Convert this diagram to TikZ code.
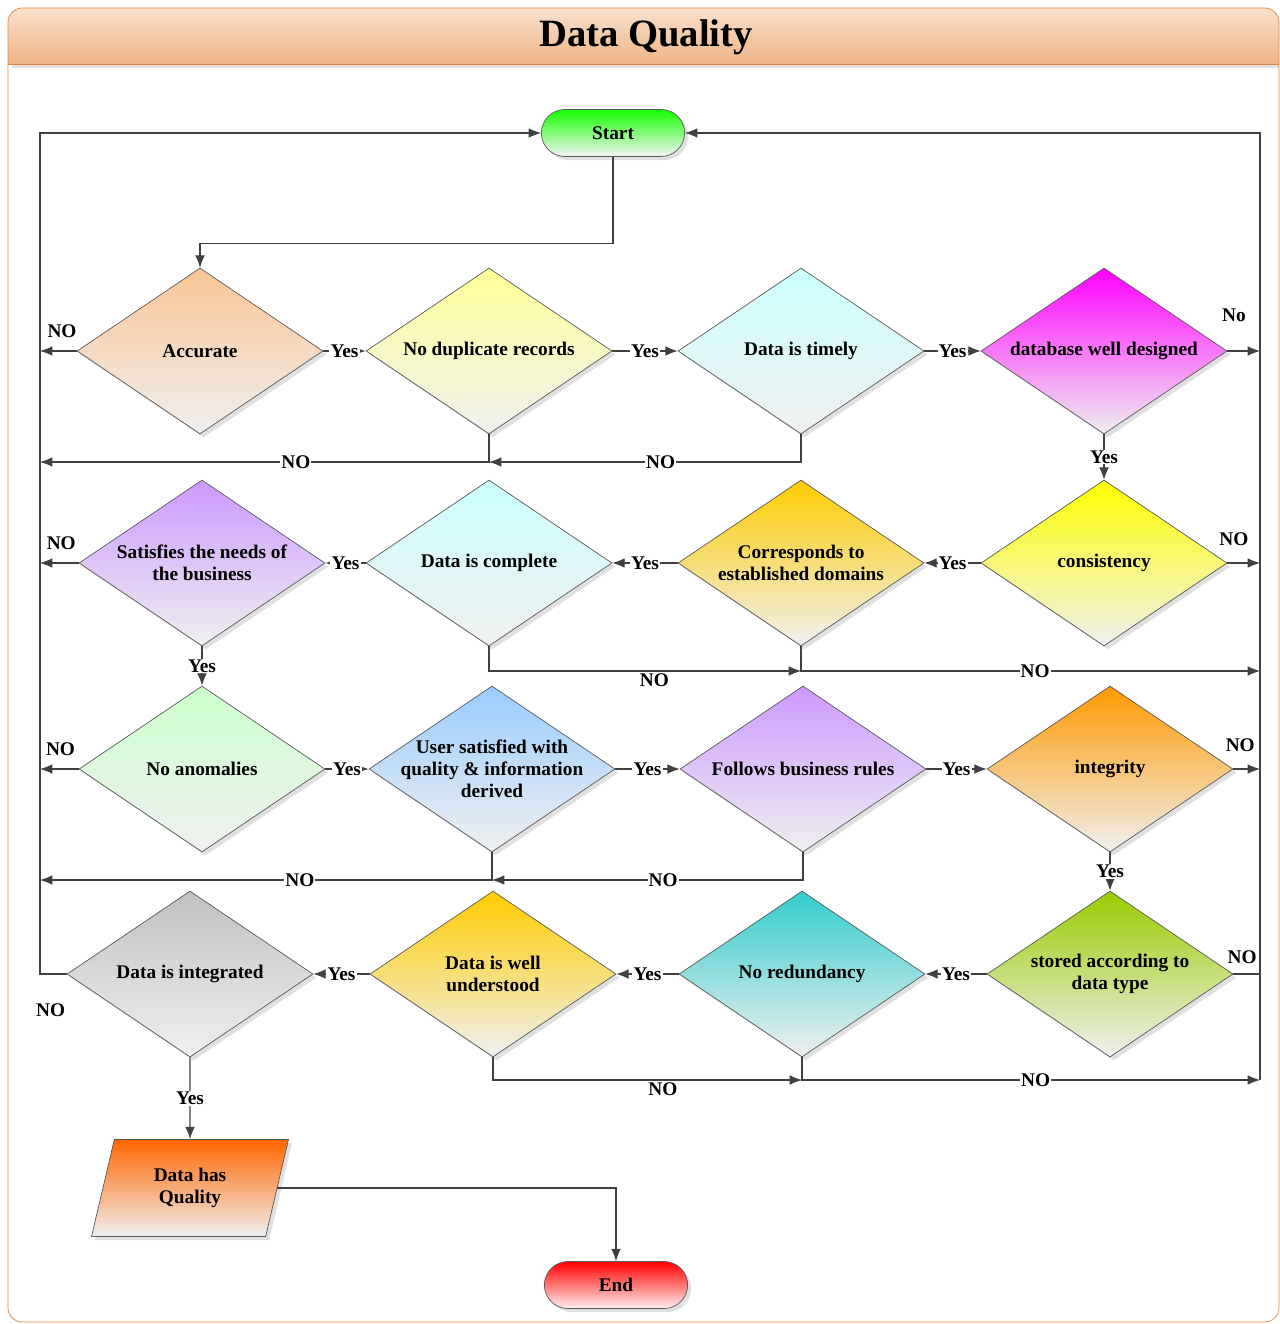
\documentclass[tikz,border=0pt]{standalone}
\usepackage{fontspec}
\setmainfont{Liberation Serif}
\usetikzlibrary{shapes.geometric,shapes.misc,shadows,arrows.meta}

\definecolor{hdtop}{HTML}{F9E1CE}
\definecolor{hdbot}{HTML}{EDB484}
\definecolor{framecol}{HTML}{E3843A}
\definecolor{linecol}{HTML}{404040}
\definecolor{accc}{HTML}{FAC595}
\definecolor{nodupc}{HTML}{FFFF99}
\definecolor{timec}{HTML}{CCFFFF}
\definecolor{dbc}{HTML}{FF00FF}
\definecolor{satc}{HTML}{CC99FF}
\definecolor{corrc}{HTML}{FFCC00}
\definecolor{consc}{HTML}{FFFF00}
\definecolor{anomc}{HTML}{CCFFCC}
\definecolor{userc}{HTML}{99CCFF}
\definecolor{intc}{HTML}{FF9900}
\definecolor{grayc}{HTML}{C0C0C0}
\definecolor{nredc}{HTML}{33CCCC}
\definecolor{storc}{HTML}{99CC00}
\definecolor{qualc}{HTML}{FF6600}

\begin{document}
\begin{tikzpicture}[
    x=0.02cm, y=-0.02cm,
    every node/.style={font=\fontsize{11}{12.5}\selectfont\bfseries},
    shade/.style={drop shadow={shadow xshift=2pt, shadow yshift=-2pt, fill=black!35, opacity=0.35}},
    dec/.style={diamond, draw=black!65, minimum width=4.92cm, minimum height=3.32cm, inner sep=0pt, bottom color=black!6, shade},
    dtxt/.style={align=center},
    term/.style={rounded rectangle, draw=black!65, minimum width=3.1cm, minimum height=0.94cm, shade},
    io/.style={trapezium, trapezium left angle=60, trapezium right angle=120, trapezium stretches body, draw=black!65, minimum width=3.94cm, minimum height=1.94cm, inner sep=0pt, align=center, shade},
    arrow/.style={->, >={Latex[length=7pt,width=5.5pt]}, draw=linecol, line width=0.6pt},
    link/.style={draw=linecol, line width=0.6pt},
    lbl/.style={fill=white, inner sep=0.6pt}
    ]
    \useasboundingbox (0,0) rectangle (1280,1324);

    % Frame and title bar
    \begin{scope}
        \clip[rounded corners=8pt] (8,8) rectangle (1279,1322);
        \shade[top color=hdtop, bottom color=hdbot] (8,8) rectangle (1279,64);
    \end{scope}
    \draw[framecol, rounded corners=8pt] (8,8) rectangle (1279,1322);
    \draw[framecol] (8,64) -- (1279,64);
    \node[font=\fontsize{22}{26}\selectfont\bfseries] (title) at (646,37) {Data Quality};

    % Start
    \node[term, top color=green!90!lime, bottom color=black!4] (start) at (613,133) {Start};

    % Row 1
    \node[dec, top color=accc, label={[dtxt]center:Accurate}] (acc) at (200,351) {};
    \node[dec, top color=nodupc, label={[dtxt]center:No duplicate records}] (nodup) at (489,351) {};
    \node[dec, top color=timec, label={[dtxt]center:Data is timely}] (timely) at (801,351) {};
    \node[dec, top color=dbc, label={[dtxt]center:database well designed}] (db) at (1104,351) {};

    % Row 2
    \node[dec, top color=satc, label={[dtxt]center:Satisfies the needs of\\the business}] (sat) at (202,563) {};
    \node[dec, top color=timec, label={[dtxt]center:Data is complete}] (comp) at (489,563) {};
    \node[dec, top color=corrc, label={[dtxt]center:Corresponds to\\established domains}] (corr) at (801,563) {};
    \node[dec, top color=consc, label={[dtxt]center:consistency}] (cons) at (1104,563) {};

    % Row 3
    \node[dec, top color=anomc, label={[dtxt]center:No anomalies}] (anom) at (202,769) {};
    \node[dec, top color=userc, label={[dtxt]center:User satisfied with\\quality \& information\\derived}] (user) at (492,769) {};
    \node[dec, top color=satc, label={[dtxt]center:Follows business rules}] (follow) at (803,769) {};
    \node[dec, top color=intc, label={[dtxt]center:integrity}] (integrity) at (1110,769) {};

    % Row 4
    \node[dec, top color=grayc, label={[dtxt]center:Data is integrated}] (integrated) at (190,974) {};
    \node[dec, top color=corrc, label={[dtxt]center:Data is well\\understood}] (well) at (493,974) {};
    \node[dec, top color=nredc, label={[dtxt]center:No redundancy}] (nored) at (802,974) {};
    \node[dec, top color=storc, label={[dtxt]center:stored according to\\data type}] (stored) at (1110,974) {};

    % Output and end
    \node[io, top color=qualc, bottom color=black!6] (quality) at (190,1188) {Data has\\Quality};
    \node[term, top color=red, bottom color=red!6] (end) at (616,1285) {End};

    % Buses
    \coordinate (lbus) at (40,974);
    \coordinate (rbus) at (1260,1080);
    \coordinate (r1) at (0,462);
    \coordinate (r2) at (0,671);
    \coordinate (r3) at (0,880);
    \coordinate (r4) at (0,1080);

    \draw[arrow] (start.south) -- ++(0,87) -| (acc.north);
    \draw[arrow] (integrated.west) -- node[pos=0.6, below=13pt] (n17) {NO} (lbus) |- (start.west);
    \draw[arrow] (rbus) |- (start.east);

    % Row 1 arrows
    \draw[arrow] (acc.east) -- node[lbl] (y1) {Yes} (nodup.west);
    \draw[arrow] (nodup.east) -- node[lbl] (y2) {Yes} (timely.west);
    \draw[arrow] (timely.east) -- node[lbl] (y3) {Yes} (db.west);
    \draw[arrow] (db.south) -- node[lbl] (y4) {Yes} (cons.north);
    \draw[arrow] (acc.west) -- node[pos=0.4, above=4pt] (n1) {NO} (acc.west -| lbus);
    \draw[arrow] (db.east) -- node[pos=0.2, above=13pt] (n2) {No} (db.east -| rbus);
    \draw[arrow] (nodup.south) -- (nodup.south |- r1) -- node[lbl, pos=0.43] (n3) {NO} (lbus |- r1);
    \draw[arrow] (timely.south) -- (timely.south |- r1) -- node[lbl, pos=0.45] (n4) {NO} (nodup.south |- r1);

    % Row 2 arrows
    \draw[arrow] (cons.west) -- node[lbl] (y5) {Yes} (corr.east);
    \draw[arrow] (corr.west) -- node[lbl] (y6) {Yes} (comp.east);
    \draw[arrow] (comp.west) -- node[lbl] (y7) {Yes} (sat.east);
    \draw[arrow] (sat.south) -- node[lbl] (y8) {Yes} (anom.north);
    \draw[arrow] (sat.west) -- node[pos=0.45, above=4pt] (n5) {NO} (sat.west -| lbus);
    \draw[arrow] (cons.east) -- node[pos=0.2, above=6pt] (n6) {NO} (cons.east -| rbus);
    \draw[arrow] (comp.south) -- (comp.south |- r2) -- node[lbl, pos=0.53, yshift=-5pt] (n7) {NO} (corr.south |- r2);
    \draw[arrow] (corr.south) -- (corr.south |- r2) -- node[lbl, pos=0.51] (n8) {NO} (rbus |- r2);

    % Row 3 arrows
    \draw[arrow] (anom.east) -- node[lbl] (y9) {Yes} (user.west);
    \draw[arrow] (user.east) -- node[lbl] (y10) {Yes} (follow.west);
    \draw[arrow] (follow.east) -- node[lbl] (y11) {Yes} (integrity.west);
    \draw[arrow] (integrity.south) -- node[lbl] (y12) {Yes} (stored.north);
    \draw[arrow] (anom.west) -- node[pos=0.47, above=4pt] (n9) {NO} (anom.west -| lbus);
    \draw[arrow] (integrity.east) -- node[pos=0.26, above=6pt] (n10) {NO} (integrity.east -| rbus);
    \draw[arrow] (user.south) -- (user.south |- r3) -- node[lbl, pos=0.425] (n11) {NO} (lbus |- r3);
    \draw[arrow] (follow.south) -- (follow.south |- r3) -- node[lbl, pos=0.45] (n12) {NO} (user.south |- r3);

    % Row 4 arrows
    \draw[arrow] (stored.west) -- node[lbl] (y13) {Yes} (nored.east);
    \draw[arrow] (nored.west) -- node[lbl] (y14) {Yes} (well.east);
    \draw[arrow] (well.west) -- node[lbl] (y15) {Yes} (integrated.east);
    \draw[arrow] (integrated.south) -- node[lbl] (y16) {Yes} (quality.north);
    \draw[link] (stored.east) -- node[pos=0.33, above=2pt] (n13) {NO} (stored.east -| rbus);
    \draw[arrow] (well.south) -- (well.south |- r4) -- node[lbl, pos=0.55, yshift=-5pt] (n14) {NO} (nored.south |- r4);
    \draw[arrow] (nored.south) -- (nored.south |- r4) -- node[lbl, pos=0.51] (n15) {NO} (rbus);

    % To end
    \draw[arrow] (quality.east) -| (end.north);

\end{tikzpicture}
\end{document}
